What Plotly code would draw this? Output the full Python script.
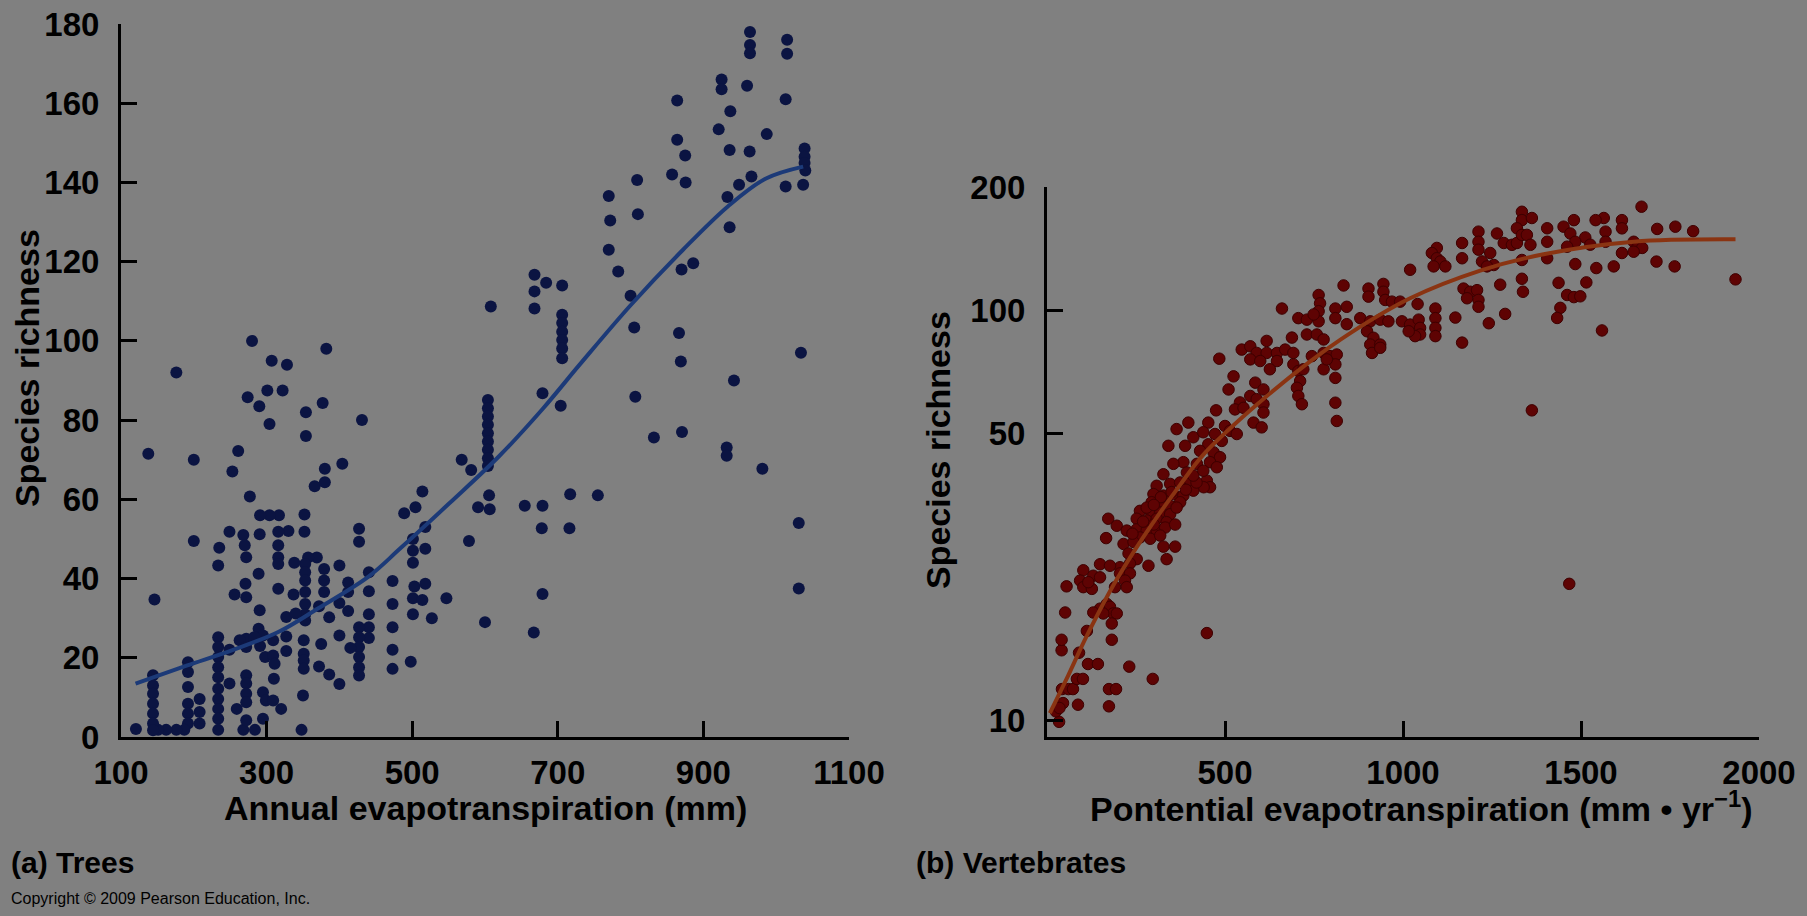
import plotly.graph_objects as go

# ---------------- (a) Trees ----------------
trees_x = [176,137.5,146,200,200,274,290,301,322,304,280,307,328,382,
 261,253,277,354,377,354,380,366,380,404,431,
 514,504.5,489,501,518,518,501,501,473,503,518,473,501,514,501,527,547,473,473,473,498,
 440.5,440.5,440.5,440.5,440.5,
 427,427,412,412,400,400,412,
 427,427,427,427,427,427,415,
 400,386,375,372,386,400,
 379,379,379,369,357,
 353,353,353,353,353,353,353,
 372,352,352,338,337,327,340,327,327,
 351,351,351,351,350,348,
 330,316,316,316,316,316,317,304,291,290.5,
 268,270,272,249,235,233.5,289,271,272,256,
 290.5,289,295,309,291,298,309,311,310,
 272,283,263,272,249,249,
 233.5,233.5,233.5,233.5,233.5,233.5,233.5,233.5,233.5,233.5,
 259,268,272,272,272,272,272,284,295,295,299,309,320,
 208,208,208,
 192,192,192,192,192,192,
 187,176,162,151,
 144,144,144,144,144,144,144,
 120.5,
 964,964,964,964,1015,1015,960,1013,925,925,937,921,987,936,963.5,864,864,875,857,875.6,
 1039,1039,1039,1040,1013,1037,966,949,933,936,
 809,770,810,772,770,783,800,805,866.5,869,886,870,1034,
 608,668,684,706,668,668,706,706,706,706,706,706,942,
 806.5,679,704,832,870.6,932,932,981,
 604,604,604,604,604,604,604,604,604,
 568,581,605.6,590.5,606.5,654.6,679,717,755,678,716,578,
 600,679,667,1031,1031]
trees_y = [92,71.5,34.7,70,49.5,85.8,83.5,87.5,87.5,79,100,95,94,98,
 72.2,67,60.7,82,84.3,76,67.7,63.3,64.3,69,80,
 62,58,56.5,50,53,47.5,47,44,39.4,38,38.7,33.6,35,34.6,31,30,35,27.7,22,17.2,19,
 41.6,36.8,31,27.7,25,
 52.6,49.3,39,36.6,33.8,43.3,31.8,
 27.7,25.2,22.7,20.2,17.6,15.5,22.5,
 25.6,30.2,23.5,17.8,15.8,13.4,
 42.4,39.5,36.6,45.3,45.3,
 43.7,41.6,39.5,36.6,33.6,31,29.4,
 33,56.2,51.8,44,36,30.3,31.2,25.4,21.7,
 24.4,21,19.3,17.2,10.5,1.8,
 52,51.8,48.4,45.4,43.7,37.4,56,56,56,51.2,
 51,48.4,45.4,51.8,47.8,43.3,41.2,38.7,35.3,36,
 32,27.3,25.6,24.4,23,20.2,20.6,18.5,14.7,
 24.8,25.2,24.4,22.7,22,13.5,
 25.2,22.7,20.2,17.6,15.1,12.2,9.6,7.1,4.6,1.8,
 7.1,1.8,15.6,13.5,10.9,8.8,4.2,1.8,11.3,4.6,9.2,9.2,7.1,
 9.6,6.3,3.4,
 18.9,16.4,12.6,8.4,5.9,3.4,
 1.8,1.8,1.8,1.8,
 15.6,13,10.9,8.4,5.9,3.4,1.7,
 2,
 180.4,178,174.7,172.6,176,172.5,164.4,161,166,163.5,158,153.4,152.2,148.2,147.8,160.7,150.8,146.8,142,140,
 148.6,146.5,144.9,143,139,139.4,141.5,139.4,136.3,128.7,
 140.6,136.6,132,130.4,123,117.5,111.4,103.4,102,94.8,119.6,118,97,
 108.7,116.7,114.7,114,112.5,108.2,106.6,104.5,102.3,100.2,98.1,95.6,90,
 85.9,86.8,83.6,75.6,77,73.1,71,67.7,
 85.1,83,80.9,78.8,76.7,74.6,72.5,70.4,68.4,
 70,67.4,61,58,57.5,58.4,58.4,61.3,61,52.7,52.7,49.5,
 29,36.1,26.4,54,37.5]

trees_fit_x = [120,190,254,316,371,440,483,551,620,680,730,800,872,934,986,1037]
trees_fit_y = [13.5,18,22,26.5,32.5,40.5,47.5,59,71,83,94,109,123,134,141,144]

# ---------------- (b) Vertebrates ----------------
vert_x = [34,25,45,35,87,174,42,60,73,84,101,174,194,231,297,449,115,143,90,41,1467,
 308,346,374,402,449,458,440,
 299,327,355,383,411,
 294,318,346,374,
 261,290,318,346,364,
 252,280,308,336,
 172,196,
 224,252,280,308,332,261,290,318,
 166,215,243,327,360,
 336,285,229,252,233,205,
 149,177,205,233,219,
 102,130,149,93,102,126,116,
 55,191,224,
 168,149,177,186,196,158,130,182,
 51,112,41,182,
 280,300,320,350,390,420,360,270,240,300,
 833,763,767,763,763,660,706,730,749,810,810,842,842,
 730,758,777,688,
 547,571,589,617,617,646,669,692,646,626,571,599,
 692,706,711,702,706,716,
 777,795,814,810,777,786,810,810,814,744,720,
 484,524,510,
 585,608,571,589,608,608,580,603,542,528,552,475,
 453,397,364,341,388,411,439,472,500,514,533,491,453,430,468,486,458,421,383,355,327,393,411,439,477,
 903,903,945,945,950,969,992,
 880,908,936,959,899,917,908,936,913,936,
 1020,997,1020,1044,1048,1048,1034,1016,1041,
 1091,1091,1091,1091,1147,1166,
 1095,1081,1095,1105,1086,1119,1166,1166,
 1170,1189,1208,1180,1212,1212,1241,1287,
 1212,1212,1212,1222,1245,1255,1236,1264,1273,
 1283,1306,1320,
 1334,1334,1362,1320,1334,1348,1358,1334,1334,1337,
 1405,1405,1405,
 1362,1559,1934,
 1437,1442,1433,1461,1480,1498,1515,1484,1543,1592,1615,1648,1658,1672,1648,1712,1763,1714,1765,1815,1670,1615,1615,1564,1541,1569,1569,1512,1480,1451,1470,1484,1461,1526]
vert_y = [9.9,10.5,11.0,10.7,10.9,10.8,11.9,11.9,11.9,12.6,12.6,11.9,11.9,13.5,12.6,16.3,13.7,13.7,14.6,14.8,21.5,
 37.3,37.7,38,38.4,38.4,37,37,
 35.6,35.3,35.6,35.3,36.3,
 34,33.7,33.3,34,
 32.4,32.4,32.1,31.8,33,
 31,30.7,31,30.4,
 31,29.8,
 29,29.2,29,29,29.5,27.9,27.7,28.2,
 27.8,26.9,27.2,26.5,26.5,
 24.7,23.8,25.5,24.7,24.1,23.6,
 24,23.8,22.8,22.8,21.9,
 23.2,22.5,22.3,21.9,21.1,20.9,21.7,
 21.2,21.1,21.1,
 19.2,18.7,18.9,18.2,18.2,18.2,18.3,17.2,
 18.3,16.5,15.7,15.7,
 33,30,35,36,36.5,38,30,30.5,28.5,33.5,
 115,109,104,99.5,94,101,95.7,94.9,97.7,101,95.7,102,92.5,
 87.3,87.3,84.9,85.8,
 80.2,81.7,78.7,84.2,78.7,78.7,80.2,78.7,75.2,71.8,75.9,75.2,
 73.8,71.1,67.2,64.7,61.8,59,
 78.7,77.3,78,73.8,71.8,75.9,68.4,59.5,53.7,77.3,71.8,
 76.2,69,64.1,
 66.6,64.1,61.8,60.7,59,56.3,53.2,51.8,59.6,57.3,57.8,57,
 53.2,53.2,51.3,46.7,46.7,49,50.4,49.9,52.2,50.8,49.9,48,47.1,45.4,45,43.8,42.6,42.2,42.6,42.2,39.8,40.2,39.5,40.6,41.4,
 113,108,116,111,106,105,105,
 95.7,94,94.9,94,88.9,85.7,82.5,82.5,78.7,81,
 125.6,94,92.3,94.9,90.6,87.3,86.5,88.9,103.6,
 101,95.7,90.6,86.5,96,83.4,
 142,138,134,131.6,128,128,146,134,
 113,111,112,107,106,102,93,98,
 155.6,147,140.6,131.6,138,129,128,154,115.5,
 146,144.5,146,
 174,166,168,158.6,152.8,152.8,144.5,132.7,119.4,111,
 158.6,147,134,
 57,89.3,119,
 116.7,101.4,95.8,109,107.7,108.2,117,129.7,126.8,128,138,147,142,142,139,131.5,128,158,160,156,179,166,158.5,168,166,155.6,147,150.6,166,160,154,147,143,144.6]

vert_fit_x = [8,55,111,190,271,374,440,571,730,852,1020,1217,1395,1648,1934]
vert_fit_y = [10.4,12.6,16,21.6,28,37.5,44.5,57,74,88,107,125,137,147,149]

BG = "#808080"
FONT = "Liberation Sans"

fig = go.Figure()
fig.add_trace(go.Scatter(x=trees_x, y=trees_y, mode="markers", xaxis="x", yaxis="y",
    marker=dict(size=12, color="#0b1442", line=dict(width=0)), cliponaxis=False, showlegend=False))
fig.add_trace(go.Scatter(x=trees_fit_x, y=trees_fit_y, mode="lines", xaxis="x", yaxis="y",
    line=dict(color="#1c3a78", width=4, shape="spline", smoothing=1.0), showlegend=False))
fig.add_trace(go.Scatter(x=vert_x, y=vert_y, mode="markers", xaxis="x2", yaxis="y2",
    marker=dict(size=11.5, color="#5e0303", line=dict(width=1, color="#3d0000")), cliponaxis=False, showlegend=False))
fig.add_trace(go.Scatter(x=vert_fit_x, y=vert_fit_y, mode="lines", xaxis="x2", yaxis="y2",
    line=dict(color="#8a3412", width=4, shape="spline", smoothing=1.0), showlegend=False))

tickfont = dict(family=FONT, size=33, color="black", weight="bold")
axcommon = dict(showgrid=False, zeroline=False, showline=True, linecolor="black", linewidth=3,
                ticks="inside", ticklen=16, tickwidth=3, tickcolor="black", tickfont=tickfont,
                automargin=False)

W, H = 1807, 916
def fx(px): return px / W
def fy(py): return 1 - py / H

fig.update_layout(
    width=W, height=H, paper_bgcolor=BG, plot_bgcolor=BG,
    margin=dict(l=0, r=0, t=0, b=0, autoexpand=False),
    xaxis=dict(domain=[fx(121), fx(849)], range=[100, 1100], tickvals=[100, 300, 500, 700, 900, 1100],
               anchor="y", ticklabelstandoff=4, **axcommon),
    yaxis=dict(domain=[fy(737), fy(24)], range=[0, 180], tickvals=list(range(0, 181, 20)),
               anchor="x", ticklabelstandoff=12, **axcommon),
    xaxis2=dict(domain=[fx(1047), fx(1759)], range=[0, 2000], tickvals=[500, 1000, 1500, 2000],
                anchor="y2", ticklabelstandoff=4, **axcommon),
    yaxis2=dict(domain=[fy(737), fy(187)], type="log", range=[0.9586, 2.301],
                tickvals=[10, 50, 100, 200], ticktext=["10", "50", "100", "200"],
                anchor="x2", ticklabelstandoff=12, **axcommon),
)

title_font = dict(family=FONT, size=34, color="black", weight="bold")
label_font = dict(family=FONT, size=30, color="black", weight="bold")
ann = [
    dict(text="Species richness", x=fx(27), y=fy(368), textangle=-90, font=title_font),
    dict(text="Annual evapotranspiration (mm)", x=fx(485), y=fy(808), font=title_font),
    dict(text="Species richness", x=fx(938), y=fy(450), textangle=-90, font=title_font),
    dict(text="Pontential evapotranspiration (mm \u2022 yr<sup>\u22121</sup>)", x=fx(1421), y=fy(806), font=title_font),
    dict(text="(a) Trees", x=fx(9), y=fy(862), xanchor="left", font=label_font),
    dict(text="(b) Vertebrates", x=fx(914), y=fy(862), xanchor="left", font=label_font),
    dict(text="Copyright \u00a9 2009 Pearson Education, Inc.", x=fx(9), y=fy(898), xanchor="left",
         font=dict(family=FONT, size=16, color="black")),
]
for a in ann:
    a.setdefault("xanchor", "center")
    a.update(xref="paper", yref="paper", showarrow=False, yanchor="middle")
fig.update_layout(annotations=ann)

fig.write_html("out.html")
